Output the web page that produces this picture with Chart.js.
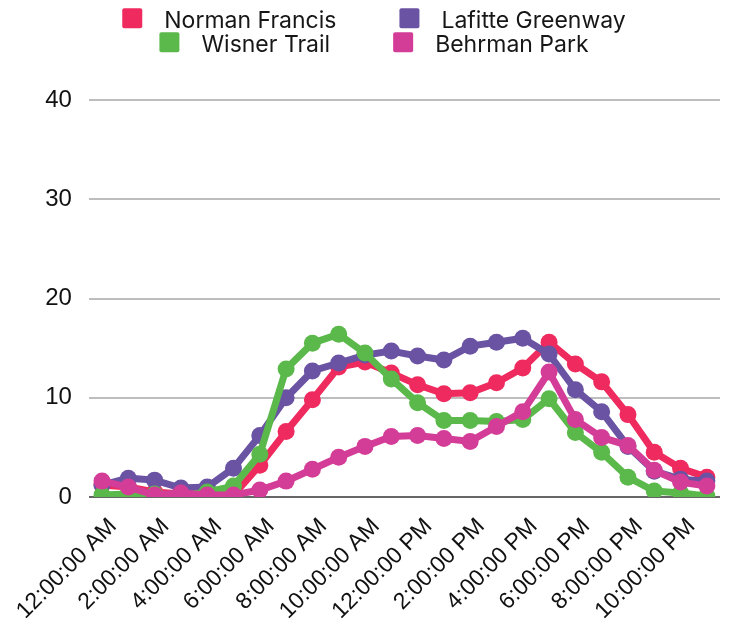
<!DOCTYPE html>
<html>
<head>
<meta charset="utf-8">
<script src="https://cdn.jsdelivr.net/npm/chart.js@4/dist/chart.umd.min.js"></script>
<style>
  html, body { margin: 0; padding: 0; background: #fff; }
  #wrap { width: 731px; height: 623px; position: relative; }
</style>
</head>
<body>
<div id="wrap"><canvas id="c"></canvas></div>
<script>
// Hourly trail counts, averaged per hour of day
const hours = [
  "12:00:00 AM", "1:00:00 AM", "2:00:00 AM", "3:00:00 AM", "4:00:00 AM", "5:00:00 AM",
  "6:00:00 AM", "7:00:00 AM", "8:00:00 AM", "9:00:00 AM", "10:00:00 AM", "11:00:00 AM",
  "12:00:00 PM", "1:00:00 PM", "2:00:00 PM", "3:00:00 PM", "4:00:00 PM", "5:00:00 PM",
  "6:00:00 PM", "7:00:00 PM", "8:00:00 PM", "9:00:00 PM", "10:00:00 PM", "11:00:00 PM"
];
const seriesNames = ["Norman Francis", "Lafitte Greenway", "Wisner Trail", "Behrman Park"];
const normanFrancis   = [1.2, 1.0, 0.5, 0.3, 0.2, 0.2, 3.2, 6.6, 9.8, 13.1, 13.6, 12.5, 11.3, 10.4, 10.5, 11.5, 13.0, 15.6, 13.4, 11.6, 8.3, 4.5, 2.9, 2.0];
const lafitteGreenway = [1.2, 1.9, 1.7, 0.9, 1.0, 2.9, 6.2, 10.0, 12.7, 13.5, 14.3, 14.7, 14.2, 13.8, 15.2, 15.6, 16.0, 14.4, 10.8, 8.6, 5.1, 2.6, 1.8, 1.6];
const wisnerTrail     = [0.2, 0.3, 0.3, 0.1, 0.5, 1.1, 4.3, 12.9, 15.5, 16.4, 14.5, 11.9, 9.5, 7.7, 7.7, 7.6, 7.8, 9.9, 6.5, 4.5, 2.0, 0.6, 0.4, 0.1];
const behrmanPark     = [1.6, 1.0, 0.2, 0.4, 0.2, 0.2, 0.7, 1.6, 2.8, 4.0, 5.1, 6.1, 6.2, 5.9, 5.6, 7.1, 8.6, 12.6, 7.8, 6.0, 5.2, 2.7, 1.5, 1.1];
const yTicks = [0, 10, 20, 30, 40];

const colors = ["#EE2A5E", "#6A53A3", "#5BB94B", "#D43D97"];
const seriesValues = [normanFrancis, lafitteGreenway, wisnerTrail, behrmanPark];

const datasets = seriesNames.map((name, i) => ({
  label: name,
  data: seriesValues[i],
  borderColor: colors[i],
  backgroundColor: colors[i],
  pointBackgroundColor: colors[i],
  pointBorderColor: colors[i],
  borderWidth: 7,
  pointRadius: 8.5,
  pointHoverRadius: 8.5,
  pointBorderWidth: 0,
  tension: 0,
  // later series sit on top of earlier ones
  order: seriesNames.length - i
}));

// Two-row legend drawn on the canvas above the plot
const legendRows = [[0, 1], [2, 3]];
const rowLegend = {
  id: 'rowLegend',
  afterDraw(chart) {
    const ctx = chart.ctx;
    const box = 20, gap = 22, itemGap = 63, center = 374;
    const baselines = [27.7, 51.7];
    ctx.save();
    ctx.font = '23px Inter, "Noto Sans", sans-serif';
    ctx.textBaseline = 'alphabetic';
    ctx.textAlign = 'left';
    legendRows.forEach((row, r) => {
      const widths = row.map(i => box + gap + ctx.measureText(chart.data.datasets[i].label).width);
      const total = widths.reduce((a, b) => a + b, 0) + itemGap * (row.length - 1);
      let x = center - total / 2;
      row.forEach((i, k) => {
        const ds = chart.data.datasets[i];
        ctx.fillStyle = ds.backgroundColor;
        ctx.beginPath();
        ctx.roundRect(x, baselines[r] - 19.5, box, box, 2);
        ctx.fill();
        ctx.fillStyle = '#161616';
        ctx.fillText(ds.label, x + box + gap, baselines[r]);
        x += widths[k] + itemGap;
      });
    });
    ctx.restore();
  }
};

new Chart(document.getElementById('c'), {
  type: 'line',
  data: { labels: hours, datasets },
  plugins: [rowLegend],
  options: {
    responsive: true,
    maintainAspectRatio: false,
    animation: false,
    layout: { padding: { top: 100, right: 11, left: 0, bottom: 0 } },
    plugins: {
      legend: { display: false },
      tooltip: { enabled: false }
    },
    scales: {
      x: {
        offset: true,
        grid: { display: false },
        border: { display: false },
        ticks: {
          autoSkip: false,
          minRotation: 45,
          maxRotation: 45,
          labelOffset: 11,
          color: '#111',
          padding: 8,
          font: { family: '"Liberation Sans", Arial, sans-serif', size: 23 },
          callback: (v, i) => (i % 2 === 0 ? hours[i] : null)
        },
        afterFit: (scale) => { scale.height = 126; }
      },
      y: {
        min: 0,
        max: 40,
        afterBuildTicks: (scale) => { scale.ticks = yTicks.map(v => ({ value: v })); },
        grid: {
          drawTicks: false,
          lineWidth: 2,
          color: (c) => (c.tick && c.tick.value === 0 ? '#666666' : '#BDBDBD')
        },
        border: { display: false },
        ticks: {
          color: '#111',
          padding: 17,
          font: { family: '"Liberation Sans", Arial, sans-serif', size: 24 }
        },
        afterFit: (scale) => { scale.width = 87; }
      }
    }
  }
});
</script>
</body>
</html>
